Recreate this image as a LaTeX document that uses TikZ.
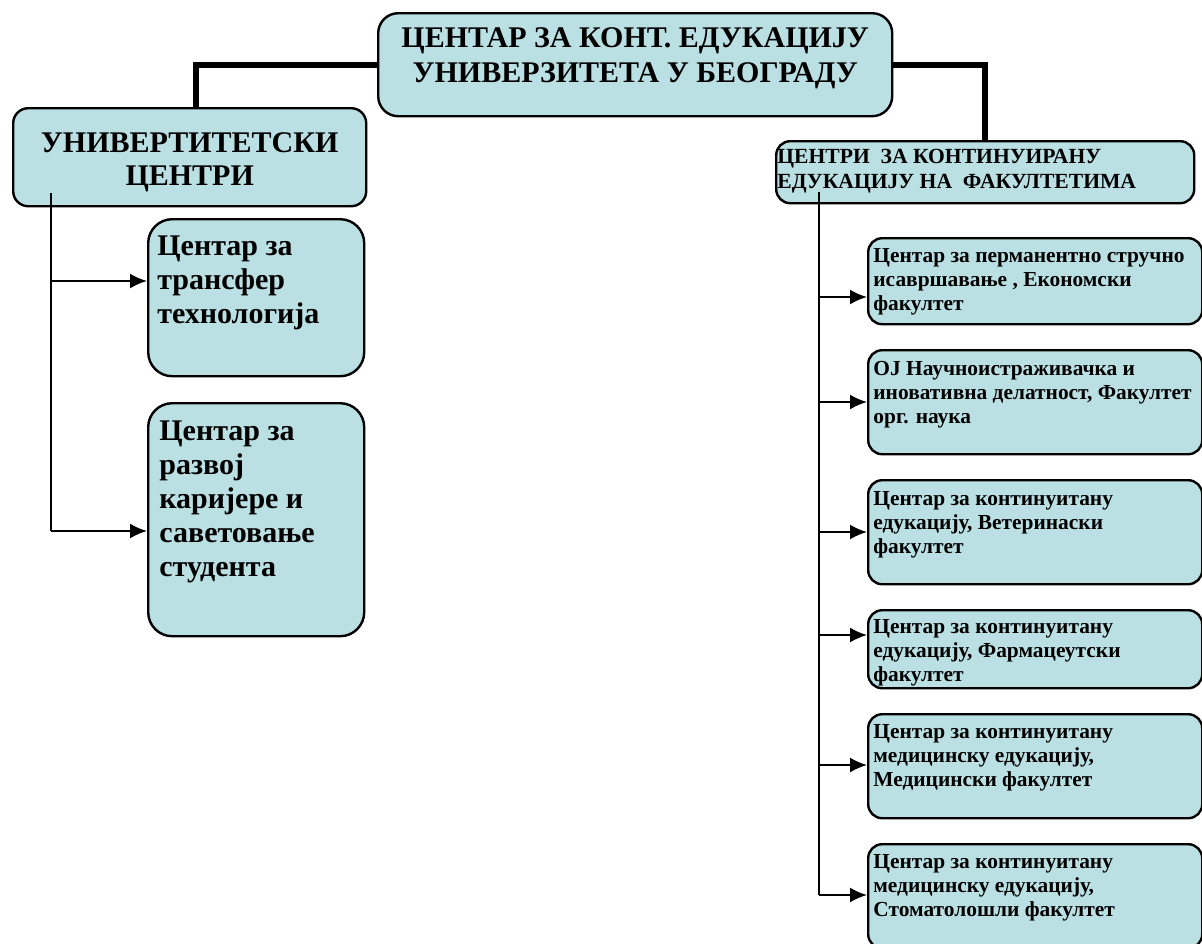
\documentclass[tikz,border=0pt]{standalone}
\usepackage{fontspec}
\setmainfont{Liberation Serif}
\usetikzlibrary{arrows.meta}
\definecolor{kutijaplava}{RGB}{187,224,227}

\tikzset{
  kutija/.style={draw=black, line width=1.2pt, fill=kutijaplava, anchor=north west, inner sep=0pt},
  veliki/.style={inner sep=0pt, font=\bfseries\fontsize{15}{17}\selectfont},
  mali/.style={inner sep=0pt, anchor=north west, align=left, font=\bfseries\fontsize{10.7}{12}\selectfont},
  debela/.style={line width=2.8pt},
  tanka/.style={line width=1pt},
  strelica/.style={line width=1pt, -{Latex[length=8.5pt,width=7.5pt]}}
}

\begin{document}
\begin{tikzpicture}[x=0.5pt, y=-0.5pt]
    \clip (0,0) rectangle (1202,943);

%okviri
    \node[kutija, rounded corners=10pt, minimum width=257pt, minimum height=51.5pt] (cke) at (377,12) {};
    \node[kutija, rounded corners=7.5pt, minimum width=176.5pt, minimum height=49pt] (ucentri) at (12,107) {};
    \node[kutija, rounded corners=7pt, minimum width=209pt, minimum height=31pt] (fcentri) at (775,140) {};

    \node[kutija, rounded corners=12pt, minimum width=108pt, minimum height=78.5pt] (l1) at (147,218) {};
    \node[kutija, rounded corners=12pt, minimum width=108pt, minimum height=116.5pt] (l2) at (147,402) {};

    \foreach \n/\y/\h in {r1/237/43, r2/349/52, r3/479/52, r4/609/39, r5/713/52, r6/843/52}
        \node[kutija, rounded corners=7pt, minimum width=167pt, minimum height=\h pt] (\n) at (867,\y) {};

%tekst
    \node[veliki, anchor=north, align=center, font=\bfseries\fontsize{15}{17.5}\selectfont] (cket) at ([yshift=-5.25pt]cke.north)
        {\strut ЦЕНТАР ЗА КОНТ. ЕДУКАЦИЈУ\\УНИВЕРЗИТЕТА У БЕОГРАДУ};
    \node[veliki, anchor=north, align=center, font=\bfseries\fontsize{15}{16.5}\selectfont] (ucentrit) at ([yshift=-10.9pt]ucentri.north)
        {\strut УНИВЕРТИТЕТСКИ\\ЦЕНТРИ};
    \node[mali, font=\bfseries\fontsize{10.8}{12.5}\selectfont] (fcentrit) at ([shift={(1pt,-2.75pt)}]fcentri.north west)
        {\strut ЦЕНТРИ\ \ ЗА КОНТИНУИРАНУ\\ЕДУКАЦИЈУ НА\ \ ФАКУЛТЕТИМА};

    \node[veliki, anchor=north west, align=left] (l1t) at ([shift={(5pt,-6.6pt)}]l1.north west)
        {\strut Центар за\\трансфер\\технологија};
    \node[veliki, anchor=north west, align=left] (l2t) at ([shift={(6pt,-7pt)}]l2.north west)
        {\strut Центар за\\развој\\каријере и\\саветовање\\студента};

    \node[mali] (r1t) at ([shift={(3pt,-4.1pt)}]r1.north west)
        {\strut Центар за перманентно стручно\\исавршавање , Економски\\факултет};
    \node[mali] (r2t) at ([shift={(3pt,-4.6pt)}]r2.north west)
        {\strut ОЈ Научноистраживачка и\\иновативна делатност, Факултет\\орг. наука};
    \node[mali] (r3t) at ([shift={(3pt,-4.6pt)}]r3.north west)
        {\strut Центар за континуитану\\едукацију, Ветеринаски\\факултет};
    \node[mali] (r4t) at ([shift={(3pt,-3.6pt)}]r4.north west)
        {\strut Центар за континуитану\\едукацију, Фармацеутски\\факултет};
    \node[mali] (r5t) at ([shift={(3pt,-4.1pt)}]r5.north west)
        {\strut Центар за континуитану\\медицинску едукацију,\\Медицински факултет};
    \node[mali] (r6t) at ([shift={(3pt,-4.1pt)}]r6.north west)
        {\strut Центар за континуитану\\медицинску едукацију,\\Стоматолошли факултет};

%veze
    \draw[debela] (cke.west) -| ([xshift=3.25pt]ucentri.north);
    \draw[debela] (cke.east) -| (fcentri.north);

    \coordinate (lv0) at (51,193);
    \coordinate (lv1) at (51,281);
    \coordinate (lv2) at (51,531);
    \draw[tanka] (lv0) -- (lv2);
    \draw[strelica] (lv1) -- (lv1 -| l1.west);
    \draw[strelica] (lv2) -- (lv2 -| l2.west);

    \coordinate (dv0) at (819,192);
    \coordinate (dv6) at (819,895);
    \draw[tanka] (dv0) -- (dv6);
    \foreach \n/\y in {r1/297, r2/402, r3/532, r4/635, r5/765, r6/895}{
        \coordinate (d\n) at (819,\y);
        \draw[strelica] (d\n) -- (d\n -| \n.west);
    }

\end{tikzpicture}
\end{document}
